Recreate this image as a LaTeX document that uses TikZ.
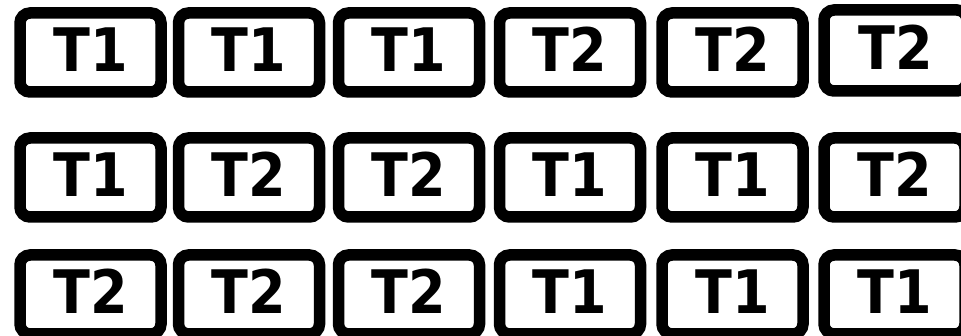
\documentclass[tikz,border=0pt]{standalone}
\usepackage{fontspec}
\setmainfont{DejaVu Sans Condensed}
\begin{document}
\begin{tikzpicture}[x=1pt,y=-1pt,
  tbox/.style={draw=black, line width=11.5pt, rounded corners=10pt, fill=white,
    minimum width=141pt, minimum height=79pt, inner sep=0pt},
  tlabel/.style={anchor=base, inner sep=0pt, font=\fontsize{60}{60}\selectfont\bfseries}]
\useasboundingbox[fill=white] (0,0) rectangle (961,336);
\def\colx{{90.5,249,409,570,732.5,894.5}}
\def\rowy{{52.5,177.5,294.5}}
\foreach \r/\labels in {0/{T1,T1,T1,T2,T2,T2},1/{T1,T2,T2,T1,T1,T2},2/{T2,T2,T2,T1,T1,T1}}{
  \foreach \t [count=\c from 0] in \labels {
    \pgfmathsetmacro{\cx}{\colx[\c]}
    \pgfmathsetmacro{\cy}{\rowy[\r]}
    \ifnum\r=0 \ifnum\c=5
      \node[tbox, minimum height=81pt, minimum width=143pt] (b\r\c) at (\cx+1,\cy-2) {};
    \else
      \node[tbox] (b\r\c) at (\cx,\cy) {};
    \fi\else
      \node[tbox] (b\r\c) at (\cx,\cy) {};
    \fi
    \node[tlabel] (l\r\c) at ([yshift=-19.5pt]b\r\c.center) {\t};
  }
}
\end{tikzpicture}
\end{document}
